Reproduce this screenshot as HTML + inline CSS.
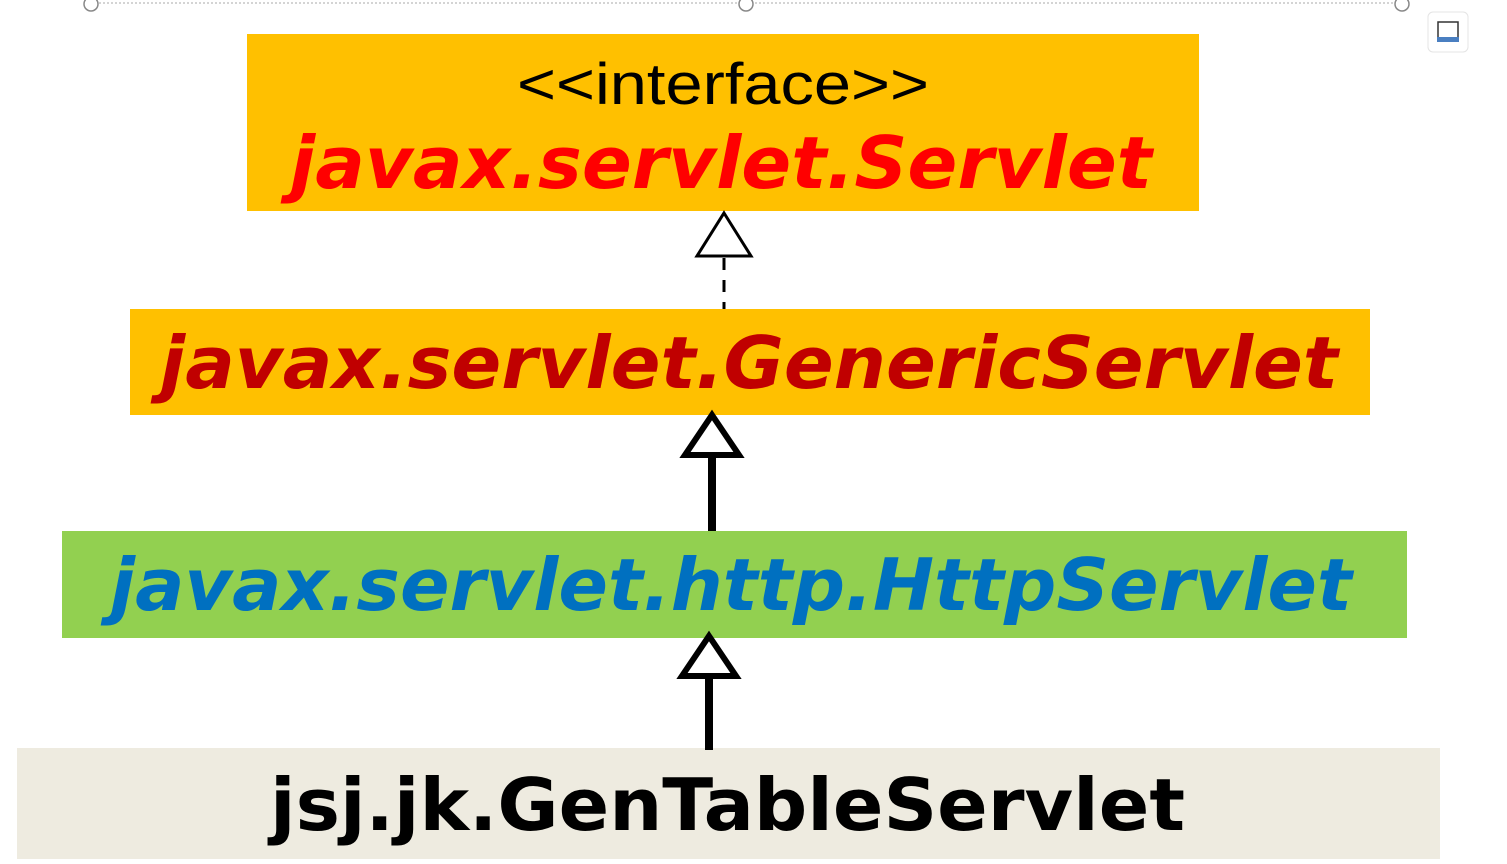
<!DOCTYPE html>
<html><head><style>
body{margin:0;width:1507px;height:859px;background:#fff;overflow:hidden}
</style></head><body>
<svg width="1507" height="859" xmlns="http://www.w3.org/2000/svg">
<line x1="91" y1="3" x2="1402" y2="3" stroke="#aaa" stroke-width="1" stroke-dasharray="2,2"/>
<circle cx="91" cy="4" r="7" fill="#fff" stroke="#888" stroke-width="1.5"/>
<circle cx="746" cy="4" r="7" fill="#fff" stroke="#888" stroke-width="1.5"/>
<circle cx="1402" cy="4" r="7" fill="#fff" stroke="#888" stroke-width="1.5"/>
<rect x="1428" y="12" width="40" height="40" rx="5" fill="#fff" stroke="#e4e4e4"/>
<rect x="1438" y="22" width="20" height="18" fill="none" stroke="#333" stroke-width="1.5"/>
<rect x="1437" y="37" width="22" height="5" fill="#4a7fc1"/>
<rect x="247" y="34" width="952" height="177" fill="#ffc000"/>
<text x="723" y="104" text-anchor="middle" font-family="Liberation Sans, sans-serif" font-size="58" textLength="412" lengthAdjust="spacingAndGlyphs">&lt;&lt;interface&gt;&gt;</text>
<text x="290" y="188" font-family="DejaVu Sans, sans-serif" font-weight="bold" font-style="italic" font-size="72" fill="#ff0000" textLength="862" lengthAdjust="spacingAndGlyphs">javax.servlet.Servlet</text>
<rect x="130" y="309" width="1240" height="106" fill="#ffc000"/>
<text x="160" y="388" font-family="DejaVu Sans, sans-serif" font-weight="bold" font-style="italic" font-size="72" fill="#c00000" textLength="1178" lengthAdjust="spacingAndGlyphs">javax.servlet.GenericServlet</text>
<rect x="62" y="531" width="1345" height="107" fill="#92d050"/>
<text x="110" y="610" font-family="DejaVu Sans, sans-serif" font-weight="bold" font-style="italic" font-size="72" fill="#0070c0" textLength="1242" lengthAdjust="spacingAndGlyphs">javax.servlet.http.HttpServlet</text>
<rect x="17" y="748" width="1423" height="111" fill="#eeebe0"/>
<text x="270" y="830" font-family="DejaVu Sans, sans-serif" font-weight="bold" font-size="72" fill="#000" textLength="915" lengthAdjust="spacingAndGlyphs">jsj.jk.GenTableServlet</text>
<polygon points="724,213 751,256 697,256" fill="#fff" stroke="#000" stroke-width="3"/>
<line x1="724" y1="258" x2="724" y2="309" stroke="#000" stroke-width="3" stroke-dasharray="12,10"/>
<polygon points="712,415 739,455 685,455" fill="#fff" stroke="#000" stroke-width="6"/>
<line x1="712" y1="458" x2="712" y2="531" stroke="#000" stroke-width="8"/>
<polygon points="709,636 736,676 682,676" fill="#fff" stroke="#000" stroke-width="6"/>
<line x1="709" y1="679" x2="709" y2="750" stroke="#000" stroke-width="8"/>
</svg>
</body></html>
